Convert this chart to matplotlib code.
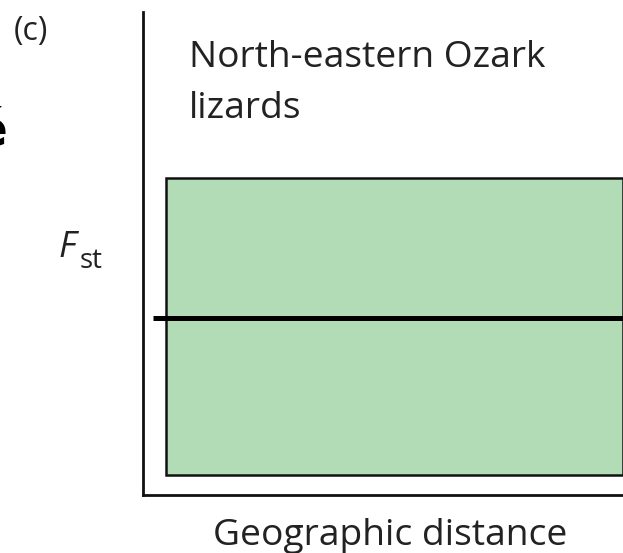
import matplotlib
matplotlib.use('Agg')
import matplotlib.pyplot as plt
from matplotlib.patches import Rectangle

plt.rcParams['mathtext.fontset'] = 'custom'
plt.rcParams['mathtext.it'] = 'Open Sans:italic'

# Schematic F_st vs. geographic distance: flat F_st across all distances
panel_label = '(c)'
title_lines = ['North-eastern Ozark', 'lizards']
x_label = 'Geographic distance'

# spread of pairwise F_st values (band) and the mean level (flat line)
band_x = [0.048, 1.0]
band_y = [0.041, 0.656]
fst_line_x = [0.021, 1.0]
fst_line_y = [0.366, 0.366]

band_color = '#b1dcb5'

W, H = 623, 553
fig = plt.figure(figsize=(W / 100, H / 100), dpi=100)
fig.patch.set_facecolor('white')

left, right, top, bottom = 143, 640, 12, 495
ax = fig.add_axes([left / W, 1 - bottom / H, (right - left) / W, (bottom - top) / H])
ax.set_xlim(0, (right - left) / (623 - 143))
ax.set_ylim(0, 1)

for side in ['top', 'right']:
    ax.spines[side].set_visible(False)
for side in ['left', 'bottom']:
    ax.spines[side].set_linewidth(2.0)
    ax.spines[side].set_color('#111111')
ax.set_xticks([])
ax.set_yticks([])

ax.add_patch(Rectangle((band_x[0], band_y[0]), band_x[1] - band_x[0],
                       band_y[1] - band_y[0], facecolor=band_color,
                       edgecolor='#111111', linewidth=1.8, zorder=2))
ax.plot(fst_line_x, fst_line_y, color='black', linewidth=3.6,
        solid_capstyle='butt', zorder=3)

font = 'Open Sans'
fs = 26.8
fig.text(189 / W, 1 - 67 / H, title_lines[0], fontsize=fs, family=font,
         color='#222222', ha='left', va='baseline')
fig.text(189 / W, 1 - 118 / H, title_lines[1], fontsize=fs, family=font,
         color='#222222', ha='left', va='baseline')
fig.text(390 / W, 1 - 545 / H, x_label, fontsize=fs, family=font,
         color='#222222', ha='center', va='baseline')
fig.text(14 / W, 1 - 40 / H, panel_label, fontsize=23, family=font,
         color='#222222', ha='left', va='baseline')

# y-axis label F_st with subscript
fig.text(58 / W, 1 - 257 / H, r'$F$', fontsize=26, family=font,
         color='#222222', ha='left', va='baseline')
fig.text(80 / W, 1 - 268 / H, 'st', fontsize=20, family=font,
         color='#222222', ha='left', va='baseline')

# clipped glyph from the neighbouring panel
fig.text(8 / W, 1 - 145 / H, 'é', fontsize=36, fontweight='bold',
         family='DejaVu Sans', color='black', ha='right', va='baseline')

fig.savefig('out.png', dpi=100)
